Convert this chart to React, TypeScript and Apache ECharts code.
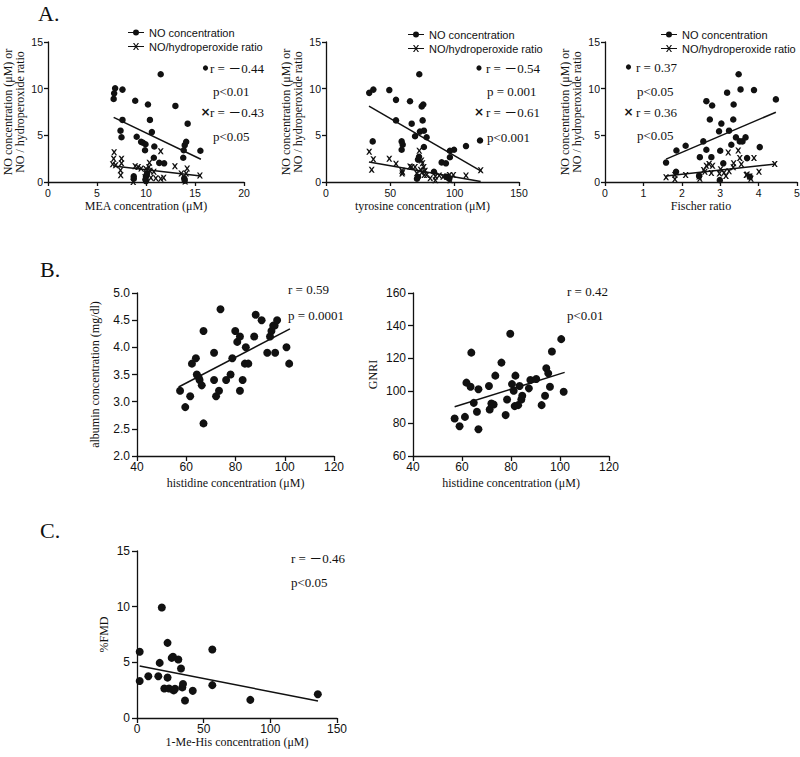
import React, { useEffect, useRef } from 'react';
import * as echarts from 'echarts';

// ---------- data ----------
const a1No = [[6.7,8.9],[6.85,10.05],[6.75,9.5],[7.6,9.9],[7.6,6.65],[7.4,5.5],[7.5,4.8],[8.9,8.7],[9.05,4.85],[9.5,4.3],[9.7,4.2],[9.95,4.05],[9.9,3.4],[10.2,8.3],[10.4,6.65],[10.6,5.35],[10.85,3.8],[10.8,2.6],[11.35,2.05],[11.85,2.0],[11.5,11.55],[13.0,8.15],[14.25,6.25],[13.95,3.95],[14.1,4.3],[13.85,3.4],[13.8,2.6],[15.55,3.35],[8.75,0.6],[8.75,0.35],[10.0,0.6],[9.95,0.3],[10.1,0.9],[13.9,0.4],[13.95,0.15],[10.0,0.1]];
const a1Ratio = [[6.75,3.2],[6.7,2.5],[6.6,1.9],[6.9,1.8],[7.5,2.5],[7.5,2.0],[7.4,1.25],[7.42,0.72],[8.9,1.7],[9.2,1.6],[9.5,1.45],[10.0,1.4],[10.35,2.05],[10.4,1.2],[10.3,1.6],[11.5,3.3],[10.8,1.1],[12.95,1.7],[14.2,1.45],[14.1,0.9],[13.6,0.9],[15.5,0.7],[8.7,0.0],[9.9,0.5],[11.0,0.4],[11.5,0.35],[11.8,0.45],[14.0,0.05],[10.5,0.45]];
const a2No = [[33.6,9.55],[36.8,9.9],[49.2,9.85],[54.4,8.8],[65.3,8.65],[72.5,11.55],[74.4,8.1],[75.6,8.3],[54.4,6.6],[66.6,6.25],[75.1,6.6],[73.0,5.4],[76.1,5.5],[69.2,4.9],[78.2,4.8],[36.3,4.35],[58.8,4.35],[59.6,4.0],[58.8,3.45],[76.1,3.75],[72.3,2.7],[71.5,2.4],[89.9,2.1],[93.2,2.0],[96.3,2.65],[96.3,3.35],[99.5,3.45],[108.8,3.85],[119.7,4.45],[71.5,0.55],[70.7,0.35],[83.9,1.1],[93.8,0.55],[95.8,0.35]];
const a2Ratio = [[33.6,3.25],[36.8,2.45],[35.5,1.3],[49.2,2.5],[54.4,1.95],[59.0,1.2],[59.2,0.9],[59.5,1.05],[65.3,1.65],[66.6,1.6],[69.2,1.6],[72.5,3.35],[74.2,2.3],[75.0,2.0],[76.0,1.6],[74.4,1.0],[76.4,0.75],[70.5,0.95],[78.2,0.75],[81.0,0.4],[85.0,0.6],[88.0,0.7],[91.0,0.55],[94.0,0.6],[96.0,0.75],[99.0,0.75],[108.8,0.7],[120.2,1.25],[73.5,1.3],[77.0,1.2],[96.5,0.2],[85.0,0.2]];
const a3No = [[1.59,2.08],[1.86,3.38],[2.1,3.88],[1.85,1.1],[2.56,4.35],[2.47,2.66],[2.64,3.45],[2.64,8.66],[2.79,8.2],[2.73,6.69],[2.77,2.66],[2.97,5.43],[3.03,6.26],[3.18,9.57],[3.23,5.5],[3.35,8.31],[3.34,6.69],[3.29,3.99],[3.41,4.78],[3.48,11.54],[3.53,9.92],[3.51,4.35],[3.58,4.35],[3.66,4.78],[3.7,2.56],[3.88,9.85],[4.03,3.74],[4.45,8.85],[3.08,2.0],[2.45,0.65],[2.99,0.2],[3.77,0.57],[3.0,3.35]];
const a3Ratio = [[1.59,0.5],[1.82,0.75],[2.1,0.75],[1.82,0.3],[2.45,0.6],[2.47,0.35],[2.57,1.29],[2.64,1.73],[2.71,1.94],[2.8,1.73],[2.77,0.97],[3.01,1.37],[3.1,1.0],[2.98,0.9],[3.15,0.65],[3.21,3.16],[3.23,1.15],[3.34,1.58],[3.35,2.01],[3.47,3.38],[3.51,2.56],[3.55,1.9],[3.68,0.75],[3.77,0.6],[3.88,2.56],[4.01,1.11],[4.42,1.94],[3.7,0.8],[3.8,0.35],[2.6,1.1]];
const b1Albumin = [[57.5,3.2],[59.6,2.9],[61.6,3.1],[62.3,3.7],[63.9,3.8],[64.3,3.5],[65.0,3.45],[65.4,3.4],[66.3,3.3],[67.0,4.3],[67.0,2.6],[71.3,3.9],[71.3,3.4],[72.1,3.1],[73.3,3.2],[73.9,4.7],[76.2,3.4],[78.0,3.5],[78.7,3.8],[79.9,4.3],[80.7,4.1],[81.8,4.2],[81.8,3.2],[82.9,3.4],[84.2,4.0],[83.8,3.7],[85.2,3.7],[87.6,4.2],[88.2,4.6],[90.6,4.5],[92.9,3.9],[94.0,4.2],[94.6,4.3],[95.3,4.4],[95.9,4.4],[96.1,3.9],[96.9,4.5],[100.7,4.0],[101.8,3.7]];
const b2Gnri = [[57,83],[59,78.3],[61.2,84],[61.8,105],[63.8,123.4],[63.5,102.5],[64.8,92.6],[66.1,87.1],[66.7,100.9],[66.7,76.4],[71,102.9],[71.3,88.5],[72,92.2],[72.9,91.6],[73.6,109.3],[76.1,117.3],[77.8,85.1],[78.4,94.7],[79.7,135],[80.4,104.1],[81.1,100],[81.8,109.3],[81.5,90.6],[82.9,91.2],[83.5,102.9],[84.2,94.7],[84.6,97],[87.3,101.5],[87.9,106.6],[90.3,107.2],[92.5,91.2],[93.9,97],[94.4,113.8],[95.2,110.7],[95.9,102.5],[96.7,124.1],[100.5,131.7],[101.5,99.4]];
const cFmd = [[2,5.95],[2,3.33],[8.5,3.75],[16,3.75],[17,4.95],[18.6,9.92],[22.9,6.75],[22.9,3.63],[20.5,2.65],[24,2.65],[26,5.4],[27,5.5],[27.5,2.48],[28.5,2.63],[31,5.25],[33,4.45],[34,2.75],[34.5,3.05],[36,1.57],[41.8,2.44],[56.5,6.15],[56.5,2.95],[85,1.63],[135.6,2.14]];

// regression line end points
const fitA1No = [[6.7,6.93],[15.6,2.44]];
const fitA1Ratio = [[6.7,1.72],[15.6,0.65]];
const fitA2No = [[33.4,8.13],[120.2,1.19]];
const fitA2Ratio = [[33.4,2.15],[120.2,0.05]];
const fitA3No = [[1.59,2.45],[4.45,7.48]];
const fitA3Ratio = [[1.59,0.65],[4.45,1.92]];
const fitB1 = [[56.9,3.27],[102.1,4.34]];
const fitB2 = [[57,90.2],[101.9,111.3]];
const fitC = [[2,4.67],[135.75,1.53]];

// texts
const legendNames = ['NO concentration', 'NO/hydroperoxide ratio'];
const statsA1 = ['r = －0.44', 'p<0.01', 'r = －0.43', 'p<0.05'];
const statsA2 = ['r = －0.54', 'p = 0.001', 'r = －0.61', 'p<0.001'];
const statsA3 = ['r = 0.37', 'p<0.05', 'r = 0.36', 'p<0.05'];
const statsB1 = ['r = 0.59', 'p = 0.0001'];
const statsB2 = ['r = 0.42', 'p<0.01'];
const statsC = ['r = －0.46', 'p<0.05'];

// ---------- styles ----------
const INK = '#111';
const SERIF = '"Liberation Serif", "Times New Roman", "Noto Sans CJK JP", serif';
const SANS = '"Liberation Sans", Arial, sans-serif';
const crossPath = 'path://M0,0 L2.6,0 L5,3.2 L7.4,0 L10,0 L6.5,5 L10,10 L7.4,10 L5,6.8 L2.6,10 L0,10 L3.5,5 Z';
const legendDotIcon = 'path://M0,3 L16,3 L16,4 L0,4 Z M5,3.5 A3,3 0 1 1 11,3.5 A3,3 0 1 1 5,3.5 Z';
const legendCrossIcon = 'path://M0,3 L16,3 L16,4 L0,4 Z M5,0 L6.3,0 L8,2.5 L9.7,0 L11,0 L8.7,3.5 L11,7 L9.7,7 L8,4.5 L6.3,7 L5,7 L7.3,3.5 Z';

function axis(o: any, fontSize: number, tickLen: number, margin: number) {
  return {
    type: 'value',
    splitLine: { show: false },
    axisLine: { show: true, onZero: false, lineStyle: { color: INK, width: 1.3 } },
    axisTick: { show: true, inside: false, length: tickLen, lineStyle: { color: INK, width: 1.3 } },
    axisLabel: { color: INK, fontSize, fontFamily: SANS, margin, showMinLabel: true, showMaxLabel: true, hideOverlap: false },
    nameLocation: 'middle',
    nameTextStyle: { fontFamily: SERIF, fontSize: 12, color: INK, lineHeight: 12 },
    ...o,
  };
}

function scatter(name: string, data: number[][], idx: number, symbol: string, size: number) {
  return { type: 'scatter', name, data, xAxisIndex: idx, yAxisIndex: idx, symbol, symbolSize: size, itemStyle: { color: INK, opacity: 1 }, silent: true, z: 3 };
}
function fit(data: number[][], idx: number) {
  return { type: 'line', name: 'fit' + idx, data, xAxisIndex: idx, yAxisIndex: idx, symbol: 'none', lineStyle: { color: INK, width: 1.5 }, silent: true, z: 2 };
}

function txt(x: number, y: number, s: string, size = 13, family = SERIF) {
  return { type: 'text', x, y, style: { text: s, fill: INK, font: `${size}px ${family}`, textVerticalAlign: 'middle', verticalAlign: 'middle' } };
}
function dot(x: number, y: number) {
  return { type: 'circle', shape: { cx: x, cy: y, r: 2.6 }, style: { fill: INK } };
}
function cross(x: number, y: number) {
  return { type: 'text', x, y, style: { text: '×', fill: INK, font: `bold 12px "DejaVu Sans", sans-serif`, align: 'center', textAlign: 'center', verticalAlign: 'middle', textVerticalAlign: 'middle' } };
}
function statsBlock(dx: number, rx: number, px: number, lines: string[], ys: number[]) {
  return [
    dot(dx, ys[0]), txt(rx, ys[0], lines[0]),
    txt(px, ys[1], lines[1]),
    cross(dx, ys[2]), txt(rx, ys[2], lines[2]),
    txt(px, ys[3], lines[3]),
  ];
}

function legendAt(left: number, top: number) {
  return {
    left, top, orient: 'vertical', itemWidth: 16, itemHeight: 7, itemGap: 3, padding: 0, selectedMode: false,
    textStyle: { fontFamily: SANS, fontSize: 11, color: INK },
    data: [
      { name: legendNames[0], icon: legendDotIcon },
      { name: legendNames[1], icon: legendCrossIcon },
    ],
  };
}

const aYName = 'NO concentration (μM) or\nNO / hydroperoxide ratio';

const option: any = {
  animation: false,
  backgroundColor: '#fff',
  grid: [
    { left: 48, top: 42, width: 196, height: 140 },
    { left: 326, top: 42, width: 193, height: 140 },
    { left: 605, top: 42, width: 192, height: 140 },
    { left: 137, top: 293, width: 197, height: 163 },
    { left: 413, top: 293, width: 196, height: 163 },
    { left: 137, top: 551, width: 200, height: 167 },
  ].map((g) => ({ ...g, containLabel: false, outerBoundsMode: 'none' })),
  xAxis: [
    axis({ gridIndex: 0, min: 0, max: 20, interval: 5, name: 'MEA concentration (μM)', nameGap: 18 }, 10.5, 4, 5),
    axis({ gridIndex: 1, min: 0, max: 150, interval: 50, name: 'tyrosine concentration (μM)', nameGap: 18 }, 10.5, 4, 5),
    axis({ gridIndex: 2, min: 0, max: 5, interval: 1, name: 'Fischer ratio', nameGap: 18 }, 10.5, 4, 5),
    axis({ gridIndex: 3, min: 40, max: 120, interval: 20, name: 'histidine concentration (μM)', nameGap: 21 }, 12, 5, 5),
    axis({ gridIndex: 4, min: 40, max: 120, interval: 20, name: 'histidine concentration (μM)', nameGap: 21 }, 12, 5, 5),
    axis({ gridIndex: 5, min: 0, max: 150, interval: 50, name: '1-Me-His concentration (μM)', nameGap: 18 }, 12, 5, 5),
  ],
  yAxis: [
    axis({ gridIndex: 0, min: 0, max: 15, interval: 5, name: aYName, nameGap: 22 }, 10.5, 4, 5),
    axis({ gridIndex: 1, min: 0, max: 15, interval: 5, name: aYName, nameGap: 22 }, 10.5, 4, 5),
    axis({ gridIndex: 2, min: 0, max: 15, interval: 5, name: aYName, nameGap: 22 }, 10.5, 4, 5),
    axis({ gridIndex: 3, min: 2, max: 5, interval: 0.5, name: 'albumin concentration (mg/dl)', nameGap: 36,
      axisLabel: { color: INK, fontSize: 12, fontFamily: SANS, margin: 7, formatter: (v: number) => v.toFixed(1) } }, 12, 5, 7),
    axis({ gridIndex: 4, min: 60, max: 160, interval: 20, name: 'GNRI', nameGap: 34 }, 12, 5, 7),
    axis({ gridIndex: 5, min: 0, max: 15, interval: 5, name: '%FMD', nameGap: 27 }, 12, 5, 7),
  ],
  legend: [legendAt(128, 27), legendAt(408, 29), legendAt(661, 29)],
  series: [
    scatter(legendNames[0], a1No, 0, 'circle', 6.5),
    scatter(legendNames[1], a1Ratio, 0, crossPath, 6),
    fit(fitA1No, 0), fit(fitA1Ratio, 0),
    scatter(legendNames[0], a2No, 1, 'circle', 6.5),
    scatter(legendNames[1], a2Ratio, 1, crossPath, 6),
    fit(fitA2No, 1), fit(fitA2Ratio, 1),
    scatter(legendNames[0], a3No, 2, 'circle', 6.5),
    scatter(legendNames[1], a3Ratio, 2, crossPath, 6),
    fit(fitA3No, 2), fit(fitA3Ratio, 2),
    scatter('albumin', b1Albumin, 3, 'circle', 8),
    fit(fitB1, 3),
    scatter('GNRI', b2Gnri, 4, 'circle', 8),
    fit(fitB2, 4),
    scatter('%FMD', cFmd, 5, 'circle', 8),
    fit(fitC, 5),
  ],
  graphic: {
    elements: [
      txt(38, 13, 'A.', 22),
      txt(40, 269, 'B.', 22),
      txt(40, 530, 'C.', 22),
      ...statsBlock(205.5, 210, 213, statsA1, [68, 91, 112, 136]),
      ...statsBlock(479, 486, 487, statsA2, [68, 91, 112, 137]),
      ...statsBlock(628.5, 636, 637, statsA3, [67, 91, 112, 135]),
      txt(288, 289, statsB1[0]), txt(288, 315, statsB1[1]),
      txt(567, 291, statsB2[0]), txt(567, 315, statsB2[1]),
      txt(291, 558, statsC[0]), txt(291, 582, statsC[1]),
    ],
  },
};

export default function App() {
  const ref = useRef<HTMLDivElement>(null);
  useEffect(() => {
    const chart = echarts.init(ref.current!, null, { renderer: 'svg' });
    chart.setOption(option);
    return () => chart.dispose();
  }, []);
  return <div ref={ref} style={{ position: 'absolute', left: 0, top: 0, width: 800, height: 757 }} />;
}
